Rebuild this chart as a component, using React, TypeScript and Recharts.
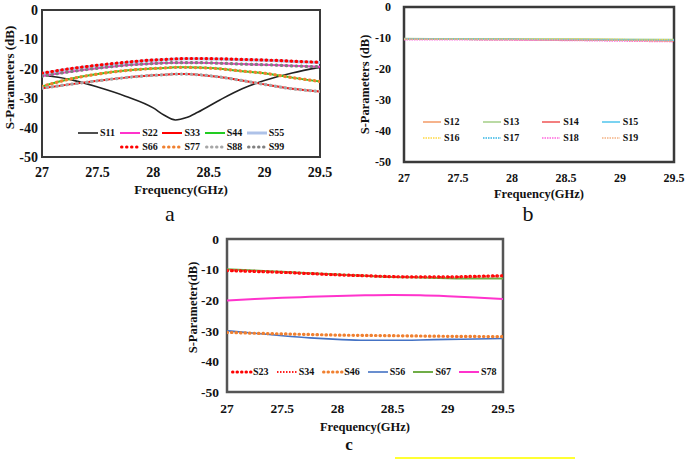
import React from 'react';
import { LineChart, Line, XAxis, YAxis, ReferenceArea, Legend } from 'recharts';

const FONT = '"Liberation Serif", "Times New Roman", serif';

// ---- chart a: reflection coefficients ----
const freqA = [27, 27.25, 27.5, 27.75, 28, 28.1, 28.2, 28.3, 28.4, 28.6, 28.8, 29, 29.25, 29.5];
const s11 = [-22.1, -23.6, -26.2, -29.3, -33.3, -35.8, -37.4, -36.6, -34.8, -30.6, -26.8, -24.0, -21.4, -19.5];
const s22 = [-22.5, -21.0, -19.8, -18.8, -18.2, -18.0, -17.9, -17.9, -17.9, -18.1, -18.4, -18.6, -19.0, -19.3];
const s33 = [-26.6, -25.3, -24.1, -23.0, -22.2, -22.0, -21.8, -21.8, -22.0, -22.8, -24.0, -25.3, -26.8, -27.7];
const s44 = [-26.0, -23.5, -21.8, -20.6, -19.9, -19.7, -19.5, -19.5, -19.6, -20.0, -20.8, -21.5, -23.0, -24.3];
const s55 = [-21.6, -20.1, -18.9, -17.9, -17.1, -16.9, -16.7, -16.6, -16.6, -16.7, -16.9, -17.1, -17.5, -17.9];
const s66 = [-21.5, -20.0, -18.8, -17.8, -17.0, -16.8, -16.6, -16.5, -16.5, -16.6, -16.8, -17.0, -17.4, -17.8];
const s77 = [-26.0, -23.5, -21.8, -20.6, -19.9, -19.7, -19.5, -19.5, -19.6, -20.0, -20.8, -21.5, -23.0, -24.3];
const s88 = [-26.6, -25.3, -24.1, -23.0, -22.2, -22.0, -21.8, -21.8, -22.0, -22.8, -24.0, -25.3, -26.8, -27.7];
const s99 = [-22.5, -21.0, -19.8, -18.8, -18.2, -18.0, -17.9, -17.9, -17.9, -18.1, -18.4, -18.6, -19.0, -19.3];

// ---- chart b: transmission from port 1 ----
const freqB = [27, 27.5, 28, 28.5, 29, 29.5];
const s12 = [-10.3, -10.35, -10.4, -10.5, -10.6, -10.8];
const s13 = [-10.2, -10.25, -10.3, -10.35, -10.4, -10.5];
const s14 = [-10.35, -10.4, -10.5, -10.6, -10.7, -10.9];
const s15 = [-10.3, -10.35, -10.4, -10.5, -10.6, -10.7];
const s16 = [-10.3, -10.3, -10.35, -10.4, -10.5, -10.6];
const s17 = [-10.4, -10.45, -10.5, -10.6, -10.7, -10.9];
const s18 = [-10.6, -10.6, -10.7, -10.8, -11.0, -11.2];
const s19 = [-10.4, -10.45, -10.5, -10.6, -10.75, -11.0];

// ---- chart c: coupling between ports ----
const freqC = [27, 27.25, 27.5, 27.75, 28, 28.25, 28.5, 28.75, 29, 29.25, 29.5];
const s23 = [-10.3, -10.6, -10.9, -11.3, -11.7, -12.0, -12.3, -12.4, -12.4, -12.2, -12.0];
const s34 = [-10.2, -10.5, -10.9, -11.3, -11.7, -12.0, -12.3, -12.4, -12.4, -12.3, -12.1];
const s46 = [-30.5, -30.8, -31.0, -31.2, -31.4, -31.5, -31.6, -31.7, -31.8, -31.85, -31.9];
const s56 = [-30.0, -30.8, -31.6, -32.3, -32.8, -33.1, -33.1, -33.0, -32.8, -32.7, -32.5];
const s67 = [-9.9, -10.3, -10.7, -11.2, -11.6, -12.0, -12.4, -12.6, -12.8, -12.9, -12.9];
const s78 = [-20.1, -19.6, -19.2, -18.9, -18.6, -18.4, -18.3, -18.4, -18.7, -19.1, -19.6];

const xTicks = [27, 27.5, 28, 28.5, 29, 29.5];
const yTicks = [0, -10, -20, -30, -40, -50];

const rowsOf = (freq: number[], series: Record<string, number[]>) =>
  freq.map((f, i) => {
    const row: Record<string, number> = { f };
    Object.keys(series).forEach((k) => (row[k] = series[k][i]));
    return row;
  });

const dataA = rowsOf(freqA, { S11: s11, S22: s22, S33: s33, S44: s44, S55: s55, S66: s66, S77: s77, S88: s88, S99: s99 });
const dataB = rowsOf(freqB, { S12: s12, S13: s13, S14: s14, S15: s15, S16: s16, S17: s17, S18: s18, S19: s19 });
const dataC = rowsOf(freqC, { S23: s23, S34: s34, S46: s46, S56: s56, S67: s67, S78: s78 });

type Style = { key: string; color: string; width: number; dash?: string; cap?: 'round' | 'butt' };

const dotted = '0.5 4.5';
const stylesA: Style[] = [
  { key: 'S11', color: '#222222', width: 1.6 },
  { key: 'S22', color: '#ff33cc', width: 2 },
  { key: 'S33', color: '#ff0000', width: 2 },
  { key: 'S44', color: '#22cc22', width: 2 },
  { key: 'S55', color: '#aec2e8', width: 3 },
  { key: 'S66', color: '#ff0000', width: 3.2, dash: dotted, cap: 'round' },
  { key: 'S77', color: '#f08030', width: 3.2, dash: dotted, cap: 'round' },
  { key: 'S88', color: '#a6a6a6', width: 3.2, dash: dotted, cap: 'round' },
  { key: 'S99', color: '#808080', width: 3.2, dash: dotted, cap: 'round' },
];

const stylesB: Style[] = [
  { key: 'S12', color: '#f4a070', width: 1.6 },
  { key: 'S13', color: '#a9d18e', width: 1.6 },
  { key: 'S14', color: '#f06060', width: 1.6 },
  { key: 'S15', color: '#5bc8ee', width: 1.6 },
  { key: 'S16', color: '#ffd740', width: 1.4, dash: '1.5 1' },
  { key: 'S17', color: '#33b5e5', width: 1.4, dash: '1.5 1' },
  { key: 'S18', color: '#ff66dd', width: 1.4, dash: '1.5 1' },
  { key: 'S19', color: '#f4b183', width: 1.4, dash: '1.5 1' },
];

const stylesC: Style[] = [
  { key: 'S67', color: '#70ad47', width: 2 },
  { key: 'S56', color: '#4472c4', width: 1.6 },
  { key: 'S78', color: '#ff33cc', width: 2 },
  { key: 'S23', color: '#ff0000', width: 3.2, dash: '0.5 4', cap: 'round' },
  { key: 'S34', color: '#ff2020', width: 2, dash: '1.5 1.5' },
  { key: 'S46', color: '#f08030', width: 3.2, dash: '0.5 4', cap: 'round' },
];
const legendOrderC = ['S23', 'S34', 'S46', 'S56', 'S67', 'S78'];

function LegendBox({
  items, cols, itemWidth, rowHeight, symbolWidth, gap,
}: { items: Style[]; cols: number; itemWidth: number; rowHeight: number; symbolWidth: number; gap: number }) {
  return (
    <div
      style={{
        display: 'flex', flexWrap: 'wrap', justifyContent: 'flex-end', width: cols * itemWidth,
        fontFamily: FONT, fontWeight: 'bold', fontSize: 10, color: '#111', lineHeight: 1,
      }}
    >
      {items.map((it) => (
        <div key={it.key} style={{ width: itemWidth, height: rowHeight, display: 'flex', alignItems: 'center' }}>
          <svg width={symbolWidth} height={6} style={{ overflow: 'visible' }}>
            <line
              x1={it.cap === 'round' ? 1.5 : 0} y1={3} x2={symbolWidth} y2={3}
              stroke={it.color} strokeWidth={Math.min(it.width, 3)}
              strokeDasharray={it.dash} strokeLinecap={it.cap || 'butt'}
            />
          </svg>
          <span style={{ marginLeft: gap }}>{it.key}</span>
        </div>
      ))}
    </div>
  );
}

function Panel({
  data, styles, legend, width, height, margin, yWidth, yLabel, yLabelOffset, yLabelDy, titleOffset, frame,
  tickGapX, tickGapY, tickFont, titleFont,
}: any) {
  const tickStyle = { fontFamily: FONT, fontWeight: 'bold' as const, fontSize: tickFont, fill: '#111' };
  const titleStyle = { fontFamily: FONT, fontWeight: 'bold' as const, fontSize: titleFont, fill: '#111' };
  return (
    <LineChart width={width} height={height} data={data} margin={margin}>
      <XAxis
        dataKey="f" type="number" domain={[27, 29.5]} ticks={xTicks} allowDataOverflow interval={0}
        axisLine={false} tickLine={false} tickSize={0} tickMargin={tickGapX} tick={tickStyle} height={30}
        label={{ value: 'Frequency(GHz)', position: 'bottom', offset: titleOffset, style: titleStyle }}
      />
      <YAxis
        type="number" domain={[-50, 0]} ticks={yTicks} allowDataOverflow interval={0}
        axisLine={false} tickLine={false} tickSize={0} tickMargin={tickGapY} tick={tickStyle} width={yWidth}
        label={{
          value: yLabel, angle: -90, position: 'insideLeft', offset: yLabelOffset, dy: yLabelDy,
          style: { ...titleStyle, textAnchor: 'middle' },
        }}
      />
      {styles.map((s: Style) => (
        <Line
          key={s.key} dataKey={s.key} type="monotone" stroke={s.color} strokeWidth={s.width}
          strokeDasharray={s.dash} strokeLinecap={s.cap || 'butt'} dot={false} activeDot={false}
          isAnimationActive={false}
        />
      ))}
      <ReferenceArea
        x1={27} x2={29.5} y1={-50} y2={0} fill="none" fillOpacity={0}
        stroke={frame.color} strokeWidth={frame.width} ifOverflow="visible"
      />
      <Legend
        layout="horizontal" verticalAlign="middle" align="center"
        wrapperStyle={{ left: legend.left, top: legend.top, width: 'auto', height: 'auto' }}
        content={() => <LegendBox {...legend.box} />}
      />
    </LineChart>
  );
}

const byKey = (styles: Style[], order: string[]) => order.map((k) => styles.find((s) => s.key === k) as Style);

export default function App() {
  const caption = (txt: string, x: number, y: number, size: number, bold = false) => (
    <div
      style={{
        position: 'absolute', left: x - 20, top: y - size * 0.6, width: 40, textAlign: 'center',
        fontFamily: FONT, fontSize: size, fontWeight: bold ? 'bold' : 'normal', color: '#111', lineHeight: 1,
      }}
    >
      {txt}
    </div>
  );

  return (
    <div style={{ position: 'absolute', left: 0, top: 0, width: 685, height: 460, background: '#fff', overflow: 'hidden' }}>
      <div style={{ position: 'absolute', left: 0, top: 0 }}>
        <Panel
          data={dataA} styles={stylesA} width={340} height={230}
          margin={{ top: 10, right: 20, left: 0, bottom: 43 }} yWidth={42}
          yLabel="S-Parameters (dB)" yLabelOffset={9} yLabelDy={-6} titleOffset={-2}
          frame={{ color: '#3a3a3a', width: 2 }} tickGapX={10} tickGapY={4} tickFont={14} titleFont={13}
          legend={{ left: 78, top: 126, box: { items: stylesA, cols: 5, itemWidth: 42.2, rowHeight: 14, symbolWidth: 20, gap: 2 } }}
        />
      </div>
      <div style={{ position: 'absolute', left: 340, top: 0 }}>
        <Panel
          data={dataB} styles={stylesB} width={345} height={230}
          margin={{ top: 7, right: 11, left: 0, bottom: 38 }} yWidth={64}
          yLabel="S-Parameters (dB)" yLabelOffset={25} yLabelDy={0} titleOffset={-3}
          frame={{ color: '#3a3a3a', width: 2.5 }} tickGapX={11} tickGapY={13} tickFont={12} titleFont={12.5}
          legend={{ left: 83, top: 114, box: { items: stylesB, cols: 4, itemWidth: 59.6, rowHeight: 16, symbolWidth: 18, gap: 3 } }}
        />
      </div>
      <div style={{ position: 'absolute', left: 180, top: 225 }}>
        <Panel
          data={dataC} styles={stylesC} width={350} height={235}
          margin={{ top: 14, right: 27, left: 0, bottom: 38 }} yWidth={47}
          yLabel="S-Parameter(dB)" yLabelOffset={13} yLabelDy={-8} titleOffset={0}
          frame={{ color: '#555555', width: 2.5 }} tickGapX={11} tickGapY={8} tickFont={13.5} titleFont={12.5}
          legend={{ left: 51, top: 140, box: { items: byKey(stylesC, legendOrderC), cols: 6, itemWidth: 45.6, rowHeight: 14, symbolWidth: 20, gap: 2 } }}
        />
      </div>
      {caption('a', 170, 216, 22)}
      {caption('b', 528, 216, 22)}
      {caption('c', 349, 446, 17, true)}
      <div style={{ position: 'absolute', left: 395, top: 457, width: 180, height: 2, background: '#ffff33' }} />
    </div>
  );
}
